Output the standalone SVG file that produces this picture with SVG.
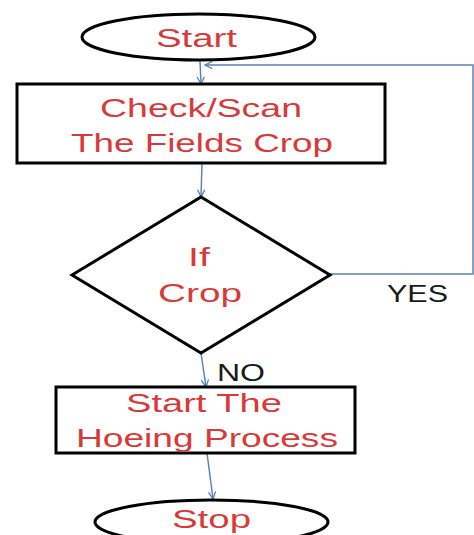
<svg xmlns="http://www.w3.org/2000/svg" width="474" height="535" viewBox="0 0 474 535">
<defs>
<style>
.shape{fill:#ffffff;stroke:#000000;stroke-width:3}
.lbl{font-family:"Liberation Sans",Arial,sans-serif;font-size:26px;fill:#d83a3a;text-anchor:middle}
.ans{font-family:"Liberation Sans",Arial,sans-serif;font-size:23px;fill:#1a1a1a}
.conn{fill:none;stroke:#5b84b8;stroke-width:1.5}
</style>
<marker id="arr" viewBox="0 0 10 10" refX="9" refY="5" markerWidth="9" markerHeight="9" markerUnits="userSpaceOnUse" orient="auto">
<path d="M1,1 L9,5 L1,9" fill="none" stroke="#5b84b8" stroke-width="1.5"/>
</marker>
</defs>
<rect width="474" height="535" fill="#ffffff"/>
<g id="connectors">
<path class="conn" d="M200,60 L201,84" marker-end="url(#arr)"/>
<path class="conn" d="M330,274 L473,274 L473,65 L205,65" marker-end="url(#arr)"/>
<path class="conn" d="M202,163 L201,197" marker-end="url(#arr)"/>
<path class="conn" d="M201,353 L206,387" marker-end="url(#arr)"/>
<path class="conn" d="M207,453 L213,499" marker-end="url(#arr)"/>
</g>
<g id="start">
<ellipse class="shape" cx="198.5" cy="37" rx="116.5" ry="23"/>
<text class="lbl" x="196.5" y="47" textLength="81" lengthAdjust="spacingAndGlyphs">Start</text>
</g>
<g id="check">
<rect class="shape" x="17" y="84" width="368" height="79"/>
<text class="lbl" x="201" y="117" textLength="202" lengthAdjust="spacingAndGlyphs">Check/Scan</text>
<text class="lbl" x="202" y="152" textLength="262" lengthAdjust="spacingAndGlyphs">The Fields Crop</text>
</g>
<g id="decision">
<polygon class="shape" points="201,197 330,275 201,353 72,275"/>
<text class="lbl" x="199" y="266" textLength="22" lengthAdjust="spacingAndGlyphs">If</text>
<text class="lbl" x="200" y="302" textLength="84" lengthAdjust="spacingAndGlyphs">Crop</text>
</g>
<g id="labels">
<text class="ans" x="387" y="302" textLength="61" lengthAdjust="spacingAndGlyphs">YES</text>
<text class="ans" x="217" y="381" textLength="48" lengthAdjust="spacingAndGlyphs">NO</text>
</g>
<g id="hoeing">
<rect class="shape" x="56" y="387" width="299" height="66"/>
<text class="lbl" x="204" y="412" textLength="156" lengthAdjust="spacingAndGlyphs">Start The</text>
<text class="lbl" x="207" y="447" textLength="262" lengthAdjust="spacingAndGlyphs">Hoeing Process</text>
</g>
<g id="stop">
<ellipse class="shape" cx="211.5" cy="522" rx="116.5" ry="22"/>
<text class="lbl" x="211.5" y="528" textLength="79" lengthAdjust="spacingAndGlyphs">Stop</text>
</g>
</svg>
